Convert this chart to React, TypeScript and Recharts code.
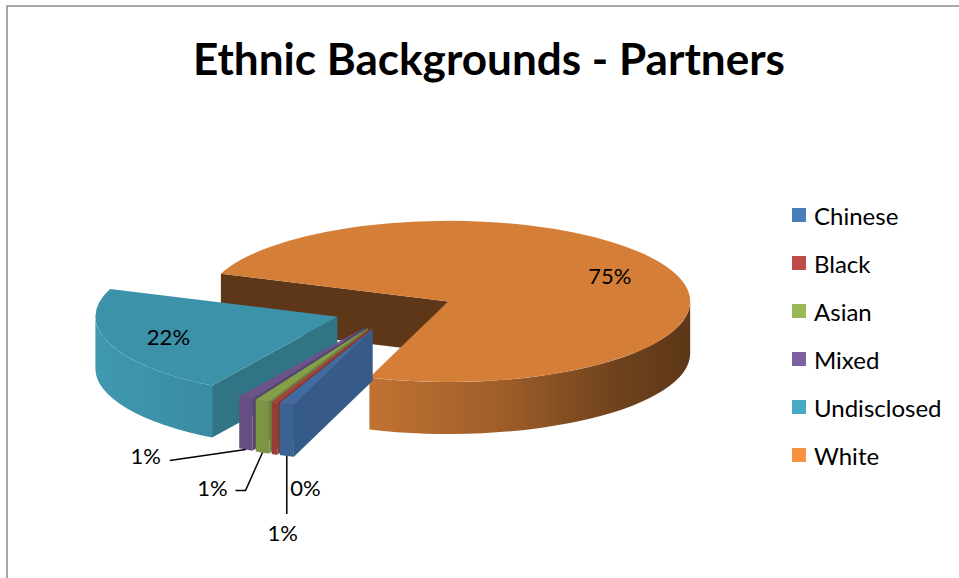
import React from "react";
import { PieChart, Pie, Cell, Legend, Tooltip } from "recharts";

const categories = ["Chinese", "Black", "Asian", "Mixed", "Undisclosed", "White"];
const shares = [1, 0.4, 1, 1, 22, 75];
const colors = ["#4A7EBB", "#BE4B48", "#98B954", "#7D60A0", "#46AAC5", "#F69240"];

// slices are painted back to front, so the pie runs in the reverse of the legend order
const pieData = categories
  .map((name, i) => ({ name, value: shares[i], color: colors[i] }))
  .reverse();

const TILT = 0.333;
const DEPTH = 52;
const EXPLODE = 60;
const FONT = "Lato, 'Open Sans', sans-serif";
const RAD = Math.PI / 180;

// where the small outside labels sit, relative to the bottom of their slice
const LABEL_NUDGE: Record<string, { dx: number; dy: number; line: number[][] }> = {
  Mixed: { dx: -100, dy: 6, line: [[-76, 11]] },
  Asian: { dx: -50, dy: 35, line: [[-17, 38], [-27, 38]] },
  Black: { dx: 31, dy: 33, line: [] },
  Chinese: { dx: -4, dy: 76, line: [[0, 58]] },
};

function shade(hex: string, f: number) {
  const n = parseInt(hex.slice(1), 16);
  const r = Math.round(((n >> 16) & 255) * f);
  const g = Math.round(((n >> 8) & 255) * f);
  const b = Math.round((n & 255) * f);
  return `rgb(${r},${g},${b})`;
}

function pt(ox: number, oy: number, a: number, r: number, dz = 0) {
  return [ox + r * Math.cos(a * RAD), oy - TILT * r * Math.sin(a * RAD) + dz];
}

function sliceOrigin(cx: number, cy: number, mid: number) {
  return [cx + EXPLODE * Math.cos(mid * RAD), cy - TILT * EXPLODE * Math.sin(mid * RAD)];
}

function renderSlice(props: any) {
  const { cx, cy, outerRadius: r, startAngle, endAngle } = props;
  const s = Math.min(startAngle, endAngle);
  const t = Math.max(startAngle, endAngle);
  const mid = (s + t) / 2;
  const name = props.payload?.name ?? props.name;
  const base = props.payload?.color ?? props.fill;
  const [ox, oy] = sliceOrigin(cx, cy, mid);
  const ry = TILT * r;
  const gradId = `rim-${name}`;

  const faces: React.ReactNode[] = [];
  const cutFace = (a: number, normal: number, key: string) => {
    const [x1, y1] = pt(ox, oy, a, r);
    const n = ((normal % 360) + 360) % 360;
    const f = Math.min(0.8, Math.max(0.3, 0.38 + (n - 250) * 0.0038));
    faces.push(
      <path
        key={key}
        d={`M${ox},${oy} L${x1},${y1} L${x1},${y1 + DEPTH} L${ox},${oy + DEPTH} Z`}
        fill={shade(base, f)}
      />
    );
  };
  if (Math.cos(s * RAD) > 0) cutFace(s, s - 90, "cs");
  if (Math.cos(t * RAD) < 0) cutFace(t, t + 90, "ce");

  const rims: React.ReactNode[] = [];
  for (let j = -2; j <= 2; j++) {
    const lo = Math.max(s, 180 + 360 * j);
    const hi = Math.min(t, 360 + 360 * j);
    if (hi <= lo) continue;
    const [x1, y1] = pt(ox, oy, lo, r);
    const [x2, y2] = pt(ox, oy, hi, r);
    rims.push(
      <path
        key={`rim${j}`}
        d={`M${x1},${y1} A${r},${ry} 0 0 0 ${x2},${y2} L${x2},${y2 + DEPTH} A${r},${ry} 0 0 1 ${x1},${y1 + DEPTH} Z`}
        fill={`url(#${gradId})`}
      />
    );
  }

  const [sx, sy] = pt(ox, oy, s, r);
  const [tx, ty] = pt(ox, oy, t, r);
  const large = t - s > 180 ? 1 : 0;

  return (
    <g>
      <defs>
        <linearGradient id={gradId} gradientUnits="userSpaceOnUse" x1={ox - r} y1={0} x2={ox + r} y2={0}>
          <stop offset="0" stopColor={shade(base, 0.9)} />
          <stop offset="0.3" stopColor={shade(base, 0.8)} />
          <stop offset="0.6" stopColor={shade(base, 0.65)} />
          <stop offset="0.85" stopColor={shade(base, 0.45)} />
          <stop offset="1" stopColor={shade(base, 0.38)} />
        </linearGradient>
      </defs>
      {faces}
      {rims}
      <path
        d={`M${ox},${oy} L${sx},${sy} A${r},${ry} 0 ${large} 0 ${tx},${ty} Z`}
        fill={shade(base, 0.86)}
      />
    </g>
  );
}

function renderLabel(props: any) {
  const { cx, cy, outerRadius: r, midAngle, percent } = props;
  const name = props.payload?.name ?? props.name;
  const text = `${Math.round(percent * 100)}%`;
  const [ox, oy] = sliceOrigin(cx, cy, midAngle);
  const style = { fontFamily: FONT, fontSize: 22, fill: "#000" };

  if (percent > 0.05) {
    const [x, y] = pt(ox, oy, midAngle, r * 0.74);
    return (
      <text x={x} y={y} textAnchor="middle" dominantBaseline="central" style={style}>
        {text}
      </text>
    );
  }

  const [ax, ay] = pt(ox, oy, midAngle, r, DEPTH);
  const nudge = LABEL_NUDGE[name] ?? { dx: 0, dy: 30, line: [] };
  const linePts = [[ax, ay], ...nudge.line.map(([dx, dy]) => [ax + dx, ay + dy])];
  return (
    <g>
      {nudge.line.length > 0 && (
        <polyline
          points={linePts.map((p) => p.join(",")).join(" ")}
          fill="none"
          stroke="#000"
          strokeWidth={1.5}
        />
      )}
      <text
        x={ax + nudge.dx}
        y={ay + nudge.dy}
        textAnchor="middle"
        dominantBaseline="central"
        style={style}
      >
        {text}
      </text>
    </g>
  );
}

function renderLegend() {
  return (
    <div style={{ fontFamily: FONT, fontSize: 24, color: "#000" }}>
      {categories.map((name, i) => (
        <div key={name} style={{ display: "flex", alignItems: "center", height: 48 }}>
          <span
            style={{
              width: 14,
              height: 14,
              background: colors[i],
              marginRight: 8,
              display: "inline-block",
            }}
          />
          <span>{name}</span>
        </div>
      ))}
    </div>
  );
}

export default function App() {
  return (
    <div style={{ position: "relative", width: 959, height: 578, background: "#fff", overflow: "hidden" }}>
      <style>{"body{margin:0}"}</style>
      <svg width={959} height={578} style={{ position: "absolute", left: 0, top: 0 }}>
        <rect x={7} y={6} width={1000} height={1000} fill="#fff" stroke="#8c8c8c" strokeWidth={1.5} />
        <text
          x={489}
          y={75}
          textAnchor="middle"
          textLength={592}
          lengthAdjust="spacingAndGlyphs"
          style={{ fontFamily: FONT, fontSize: 44, fontWeight: 700, fill: "#000" }}
        >
          Ethnic Backgrounds - Partners
        </text>
      </svg>
      <div style={{ position: "absolute", left: 0, top: 0 }}>
        <PieChart width={959} height={578} margin={{ top: 0, right: 0, bottom: 0, left: 0 }}>
          <Pie
            data={pieData}
            dataKey="value"
            nameKey="name"
            cx={394}
            cy={310}
            outerRadius={242}
            startAngle={-109}
            endAngle={251}
            stroke="none"
            isAnimationActive={false}
            label={renderLabel}
            labelLine={false}
            activeShape={renderSlice}
            inactiveShape={renderSlice}
            {...({ shape: renderSlice } as any)}
          >
            {pieData.map((d) => (
              <Cell key={d.name} fill={d.color} />
            ))}
          </Pie>
          <Tooltip defaultIndex={0} content={() => null} cursor={false} />
          <Legend
            layout="vertical"
            align="right"
            verticalAlign="middle"
            content={renderLegend}
            wrapperStyle={{ left: 792, top: 191, right: "auto", bottom: "auto", width: 167 }}
          />
        </PieChart>
      </div>
    </div>
  );
}
